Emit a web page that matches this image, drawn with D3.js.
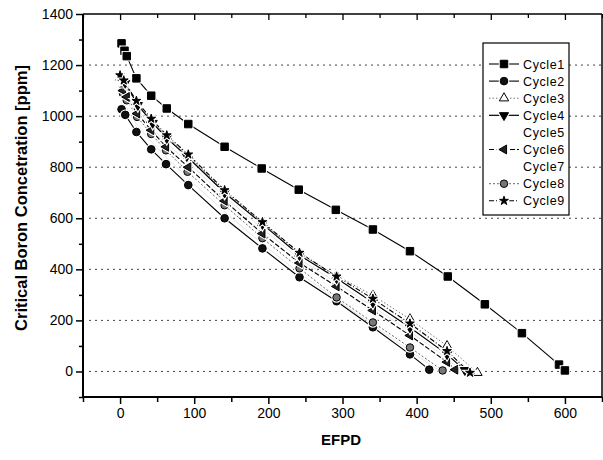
<!DOCTYPE html>
<html><head><meta charset="utf-8">
<script src="https://cdn.jsdelivr.net/npm/d3@7"></script>
<style>body{margin:0;background:#fff}svg{display:block}text{font-family:"Liberation Sans",Arial,sans-serif}</style>
</head><body>
<svg id="c" width="603" height="460"></svg>
<script>
// ---- data ----
const seriesNames = ["Cycle1","Cycle2","Cycle3","Cycle4","Cycle5","Cycle6","Cycle7","Cycle8","Cycle9"];
const cycle1X = [2,6,9,22,42,63,92,141,191,241,291,341,391,442,492,542,592,600];
const cycle1Y = [1285,1256,1235,1148,1080,1030,969,880,795,712,633,556,471,372,263,150,27,4];
const cycle2X = [2,7,22,42,62,92,141,192,242,292,341,391,417];
const cycle2Y = [1027,1005,938,870,812,730,600,482,369,275,173,67,7];
const cycle3X = [0,5,22,42,63,92,141,192,242,292,341,391,441,482];
const cycle3Y = [1150,1125,1055,985,920,845,705,582,462,375,298,205,100,-5];
const cycle4X = [7,24,44,63,90,141,192,242,292,341,391,441,465];
const cycle4Y = [1130,1043,973,914,843,700,577,455,365,270,172,67,5];
const cycle5X = [3,8,22,42,62,92,141,192,242,292,341,391,430];
const cycle5Y = [1060,1035,968,900,840,756,625,500,385,282,182,80,5];
const cycle6X = [4,9,23,42,62,92,141,192,242,292,341,391,441,452];
const cycle6Y = [1100,1075,1010,945,880,800,668,540,425,333,239,141,37,7];
const cycle7X = [4,9,23,42,62,92,141,192,242,292,341,391,441,458];
const cycle7Y = [1115,1090,1025,958,895,820,684,560,440,348,254,156,52,5];
const cycle8X = [4,9,23,42,62,91,141,192,242,292,341,391,435];
const cycle8Y = [1088,1062,997,930,866,782,651,522,404,290,192,94,4];
const cycle9X = [0,5,22,42,63,92,141,192,242,292,341,391,441,472];
const cycle9Y = [1160,1140,1060,990,925,850,710,585,465,372,285,188,80,-5];
const xTicks = [0,100,200,300,400,500,600];
const yTicks = [0,200,400,600,800,1000,1200,1400];
const gridValues = [0,200,400,600,800,1000,1200];

const allX = [cycle1X,cycle2X,cycle3X,cycle4X,cycle5X,cycle6X,cycle7X,cycle8X,cycle9X];
const allY = [cycle1Y,cycle2Y,cycle3Y,cycle4Y,cycle5Y,cycle6Y,cycle7Y,cycle8Y,cycle9Y];

// ---- styles ----
const styles = [
  {sym:d3.symbolSquare, rot:0, size:56, fill:"#000", stroke:"#000", line:"#000", dash:null, lw:1.1, show:true},
  {sym:d3.symbolCircle, rot:0, size:46, fill:"#111", stroke:"#000", line:"#000", dash:null, lw:1.1, show:true},
  {sym:d3.symbolTriangle, rot:0, size:38, fill:"#fff", stroke:"#000", line:"#777", dash:"1.5,2", lw:1, show:true},
  {sym:d3.symbolTriangle, rot:180, size:36, fill:"#000", stroke:"#000", line:"#000", dash:null, lw:1.2, show:true},
  {sym:d3.symbolDiamond, rot:0, size:40, fill:"#fff", stroke:"#eee", line:"#e6e6e6", dash:null, lw:1, show:false},
  {sym:d3.symbolTriangle, rot:-90, size:34, fill:"#222", stroke:"#000", line:"#000", dash:"5,2", lw:1.1, show:true},
  {sym:d3.symbolDiamond, rot:0, size:40, fill:"#fff", stroke:"#eee", line:"#e6e6e6", dash:null, lw:1, show:false},
  {sym:d3.symbolCircle, rot:0, size:44, fill:"#777", stroke:"#000", line:"#666", dash:"2,2", lw:1, show:true},
  {sym:d3.symbolStar, rot:0, size:24, fill:"#000", stroke:"#000", line:"#000", dash:"5,2,1,2", lw:1.1, show:true}
];

const svg = d3.select("#c");
const L=83, R=602, T=14, B=397;
const x = d3.scaleLinear().domain([-50,650]).range([L,R]);
const y = d3.scaleLinear().domain([-100,1400]).range([B,T]);

// grid
svg.append("g").selectAll("line").data(gridValues).join("line")
  .attr("x1",L+6).attr("x2",R).attr("y1",d=>y(d)).attr("y2",d=>y(d))
  .attr("stroke","#444").attr("stroke-width",1).attr("stroke-dasharray","2,4");

// lines
const lineGen = d3.line().x(d=>x(d[0])).y(d=>y(d[1]));
const order = [4,6,0,1,7,5,2,3,8];
order.forEach(i=>{
  const pts = allX[i].map((v,j)=>[v, allY[i][j]]);
  const s = styles[i];
  svg.append("path").datum(pts).attr("d",lineGen).attr("fill","none")
    .attr("stroke",s.line).attr("stroke-width",s.lw)
    .attr("stroke-dasharray",s.dash);
});
// markers
function drawMarker(g, s, px, py){
  const p = d3.symbol().type(s.sym).size(s.size)();
  const tr = `translate(${px},${py}) rotate(${s.rot})`;
  g.append("path").attr("d",p).attr("transform",tr).attr("fill","#fff").attr("stroke","#fff").attr("stroke-width",3);
  g.append("path").attr("d",p).attr("transform",tr).attr("fill",s.fill).attr("stroke",s.stroke).attr("stroke-width",1);
}
order.forEach(i=>{
  const s = styles[i];
  if(!s.show) return;
  const g = svg.append("g");
  allX[i].forEach((v,j)=>drawMarker(g, s, x(v), y(allY[i][j])));
});

// axes
const xAxis = d3.axisBottom(x).tickValues(d3.range(-50,651,50)).tickSize(6)
  .tickFormat(d=>xTicks.includes(d)?d:"");
const gx = svg.append("g").attr("transform",`translate(0,${B})`).call(xAxis);
gx.selectAll(".tick line").attr("y2",d=>xTicks.includes(d)?7:5).attr("stroke-width",1.5);
gx.selectAll(".tick text").attr("font-size",14).attr("dy","0.85em").attr("fill","#000");
gx.select(".domain").remove();

const yAxis = d3.axisLeft(y).tickValues(d3.range(-100,1401,100)).tickSize(6)
  .tickFormat(d=>yTicks.includes(d)?d:"");
const gy = svg.append("g").attr("transform",`translate(${L},0)`).call(yAxis);
gy.selectAll(".tick line").attr("x2",d=>yTicks.includes(d)?-7:-4).attr("stroke-width",1.5);
gy.selectAll(".tick text").attr("font-size",14).attr("x",-10).attr("fill","#000");
gy.select(".domain").remove();

// top ticks inward
const topAxis = d3.axisTop(x).tickValues(d3.range(-50,651,50)).tickSize(0).tickFormat("");
const gt = svg.append("g").attr("transform",`translate(0,${T})`).call(topAxis);
gt.select(".domain").remove();
gt.selectAll(".tick").append("line").attr("y1",0).attr("y2",d=>xTicks.includes(d)?6:4).attr("stroke","#000").attr("stroke-width",1.3);

// frame
svg.append("line").attr("x1",L).attr("x2",L).attr("y1",T).attr("y2",B+1).attr("stroke","#000").attr("stroke-width",2);
svg.append("line").attr("x1",L-1).attr("x2",R).attr("y1",B).attr("y2",B).attr("stroke","#000").attr("stroke-width",2);
svg.append("line").attr("x1",L).attr("x2",R).attr("y1",T).attr("y2",T).attr("stroke","#000").attr("stroke-width",1.5);
svg.append("line").attr("x1",R).attr("x2",R).attr("y1",T).attr("y2",B).attr("stroke","#000").attr("stroke-width",1.5);

// axis titles
svg.append("text").attr("x",341).attr("y",445).attr("text-anchor","middle")
  .attr("font-size",15).attr("font-weight","bold").text("EFPD");
svg.append("text").attr("transform","translate(27,198) rotate(-90)").attr("text-anchor","middle")
  .attr("font-size",16.5).attr("font-weight","bold").text("Critical Boron Concetration [ppm]");

// legend
const lg = svg.append("g");
lg.append("rect").attr("x",483).attr("y",43).attr("width",86).attr("height",172)
  .attr("fill","#fff").attr("stroke","#000").attr("stroke-width",1.2);
seriesNames.forEach((n,i)=>{
  const s = styles[i];
  const ly = 64 + i*17.1;
  if(s.show){
    lg.append("line").attr("x1",489).attr("x2",519).attr("y1",ly).attr("y2",ly)
      .attr("stroke",s.line).attr("stroke-width",s.lw).attr("stroke-dasharray",s.dash);
    drawMarker(lg, s, 504, ly);
  }
  lg.append("text").attr("x",523).attr("y",ly+4.5).attr("font-size",12.5)
    .attr("letter-spacing","0.6px").text(n);
});
</script>
</body></html>
